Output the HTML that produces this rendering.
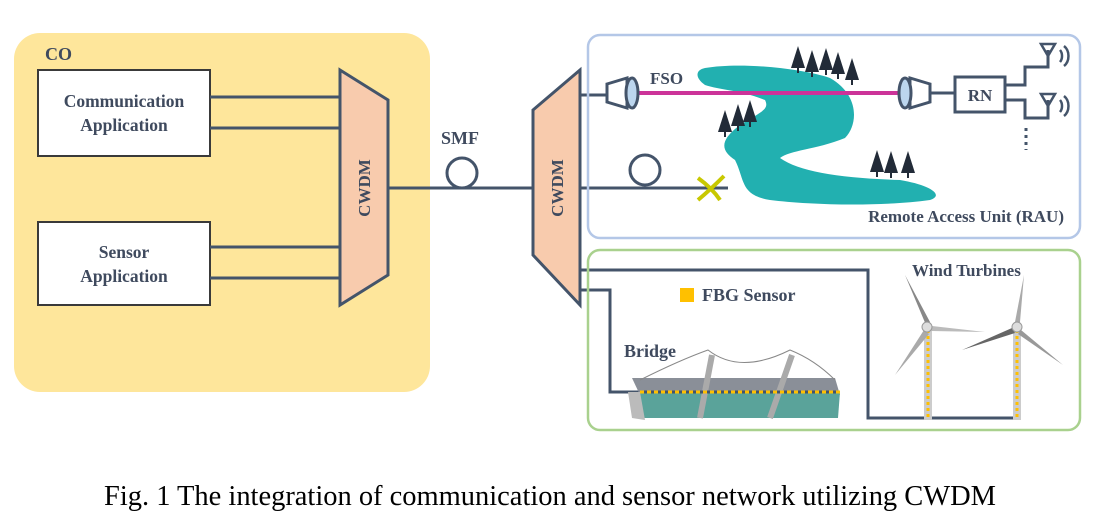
<!DOCTYPE html>
<html><head><meta charset="utf-8"><style>
html,body{margin:0;padding:0;background:#fff}
svg{display:block}
text{font-family:"Liberation Serif",serif;font-weight:bold;fill:#3f4a5e}
</style></head><body>
<svg width="1100" height="531" viewBox="0 0 1100 531">
<defs>
<g id="tree"><polygon points="0,-22 -7,0 7,0" fill="#222b38"/><rect x="-1" y="0" width="2" height="5" fill="#222b38"/></g>
</defs>
<rect x="14" y="33" width="416" height="359" rx="26" fill="#fee69b"/>
<text x="45" y="60" font-size="18">CO</text>
<g>
<rect x="38" y="70" width="172" height="86" fill="#fff" stroke="#3a3a3a" stroke-width="2"/>
<text x="124" y="107" font-size="17.5" text-anchor="middle">Communication</text>
<text x="124" y="131" font-size="17.5" text-anchor="middle">Application</text></g>
<g>
<rect x="38" y="222" width="172" height="83" fill="#fff" stroke="#3a3a3a" stroke-width="2"/>
<text x="124" y="258" font-size="17.5" text-anchor="middle">Sensor</text>
<text x="124" y="282" font-size="17.5" text-anchor="middle">Application</text></g>
<g stroke="#44546a" stroke-width="3" fill="none">
<line x1="210" y1="97" x2="340" y2="97"/><line x1="210" y1="128" x2="340" y2="128"/>
<line x1="210" y1="247" x2="340" y2="247"/><line x1="210" y1="278" x2="340" y2="278"/>
<line x1="388" y1="188" x2="533" y2="188"/>
<circle cx="462" cy="173" r="15"/>
<line x1="580" y1="95" x2="607" y2="95"/>
<line x1="580" y1="188" x2="728" y2="188"/>
<circle cx="645" cy="170" r="15"/>
<polyline points="580,270 868,270 868,418 1020,418"/>
<polyline points="580,290 610,290 610,392 640,392"/>
</g>
<text x="460" y="144" font-size="18" text-anchor="middle">SMF</text>
<g>
<polygon points="340,70 388,100 388,275 340,305" fill="#f8cbad" stroke="#44546a" stroke-width="3"/>
<text x="364" y="188" font-size="17" text-anchor="middle" transform="rotate(-90 364 188)" dy="6">CWDM</text></g>
<g>
<polygon points="533,110 580,70 580,305 533,255" fill="#f8cbad" stroke="#44546a" stroke-width="3"/>
<text x="557" y="188" font-size="17" text-anchor="middle" transform="rotate(-90 557 188)" dy="6">CWDM</text></g>
<rect x="588" y="35" width="492" height="203" rx="12" fill="none" stroke="#b4c7e7" stroke-width="2.5"/>
<path fill="#22b0b0" d="M705,68 C740,62 800,68 830,78 C860,95 858,125 845,138 C815,150 790,150 780,158 C800,172 840,178 900,180 C930,185 945,195 930,200 C880,207 810,205 770,200 C740,195 745,180 735,160 C720,150 720,140 740,125 C760,112 770,110 765,100 C740,90 720,90 705,85 C695,78 695,70 705,68 Z"/>
<g>
<use href="#tree" x="798" y="68"/><use href="#tree" x="812" y="72"/><use href="#tree" x="826" y="70"/><use href="#tree" x="838" y="74"/><use href="#tree" x="852" y="80"/>
<use href="#tree" x="725" y="132"/><use href="#tree" x="738" y="126"/><use href="#tree" x="750" y="122"/>
<use href="#tree" x="877" y="172"/><use href="#tree" x="891" y="173"/><use href="#tree" x="908" y="173"/>
</g>
<line x1="633" y1="93" x2="902" y2="93" stroke="#cc3399" stroke-width="4"/>
<g stroke="#44546a" stroke-width="3">
<polygon points="607,84 627,78 627,108 607,102" fill="#fff"/><ellipse cx="632" cy="93" rx="6" ry="15" fill="#bcd6ee"/></g>
<g stroke="#44546a" stroke-width="3">
<polygon points="930,84 910,78 910,108 930,102" fill="#fff"/><ellipse cx="905" cy="93" rx="6" ry="15" fill="#bcd6ee"/></g>
<text x="650" y="84" font-size="17">FSO</text>
<g stroke="#44546a" stroke-width="3" fill="none">
<line x1="930" y1="93" x2="955" y2="93"/>
<rect x="955" y="77" width="50" height="35" fill="#fff"/>
<polyline points="1005,85 1025,85 1025,67 1048,67 1048,50"/>
<polyline points="1005,100 1025,100 1025,118 1048,118 1048,100"/>
<line x1="1026" y1="128" x2="1026" y2="150" stroke-dasharray="3,4"/>
</g>
<text x="980" y="101" font-size="17" text-anchor="middle">RN</text>
<g fill="none" stroke="#44546a" stroke-width="2.5">
<polygon points="1041,44 1055,44 1048,56"/><path d="M1060,50 a6,8 0 0 1 0,12 M1064,46 a10,12 0 0 1 0,20"/>
<polygon points="1041,94 1055,94 1048,106"/><path d="M1060,100 a6,8 0 0 1 0,12 M1064,96 a10,12 0 0 1 0,20"/>
</g>
<path d="M698,178 Q712,188 720,200 M724,176 Q710,190 698,200" stroke="#c8c800" stroke-width="4" fill="none"/>
<text x="1064" y="222" font-size="17" text-anchor="end">Remote Access Unit (RAU)</text>
<rect x="588" y="250" width="492" height="180" rx="12" fill="none" stroke="#a9d18e" stroke-width="2.5"/>
<rect x="680" y="288" width="14" height="14" fill="#ffc000"/>
<text x="702" y="301" font-size="18">FBG Sensor</text>
<text x="624" y="357" font-size="18">Bridge</text>
<text x="912" y="276" font-size="17">Wind Turbines</text>
<g>
<polygon points="632,378 835,378 840,395 640,395" fill="#8a8f98"/>
<polygon points="628,392 840,392 838,418 640,418" fill="#5aa39a"/>
<polygon points="628,392 640,392 645,420 632,418" fill="#bbb"/>
<path d="M640,380 Q680,360 708,350 Q740,375 790,350 Q815,360 835,380" stroke="#888" fill="none"/>
<line x1="700" y1="418" x2="712" y2="355" stroke="#aaa" stroke-width="6"/>
<line x1="770" y1="418" x2="792" y2="355" stroke="#aaa" stroke-width="6"/>
<line x1="640" y1="392" x2="840" y2="392" stroke="#ffc000" stroke-width="3" stroke-dasharray="4,3"/>
<line x1="640" y1="392" x2="840" y2="392" stroke="#44546a" stroke-width="3" stroke-dasharray="3,4" stroke-dashoffset="-4"/>
</g>
<g>
<rect x="924" y="328" width="8" height="92" fill="#ccc"/>
<line x1="928" y1="330" x2="928" y2="420" stroke="#ffc000" stroke-width="3" stroke-dasharray="3,3"/>
<polygon points="926,325 905,275 930,322" fill="#888"/><polygon points="932,326 985,332 931,331" fill="#bbb"/><polygon points="924,330 895,375 929,334" fill="#aaa"/>
<circle cx="927" cy="327" r="5" fill="#ddd" stroke="#999"/></g>
<g>
<rect x="1013" y="328" width="8" height="92" fill="#ccc"/>
<line x1="1017" y1="330" x2="1017" y2="420" stroke="#ffc000" stroke-width="3" stroke-dasharray="3,3"/>
<polygon points="1015,322 1024,275 1020,322" fill="#aaa"/><polygon points="1012,328 962,350 1015,333" fill="#666"/><polygon points="1021,330 1063,365 1018,334" fill="#999"/>
<circle cx="1017" cy="327" r="5" fill="#ddd" stroke="#999"/></g>
<text x="550" y="505" font-size="28" text-anchor="middle" textLength="892" lengthAdjust="spacingAndGlyphs" style="font-weight:normal;fill:#000">Fig. 1 The integration of communication and sensor network utilizing CWDM</text>
</svg>
</body></html>
